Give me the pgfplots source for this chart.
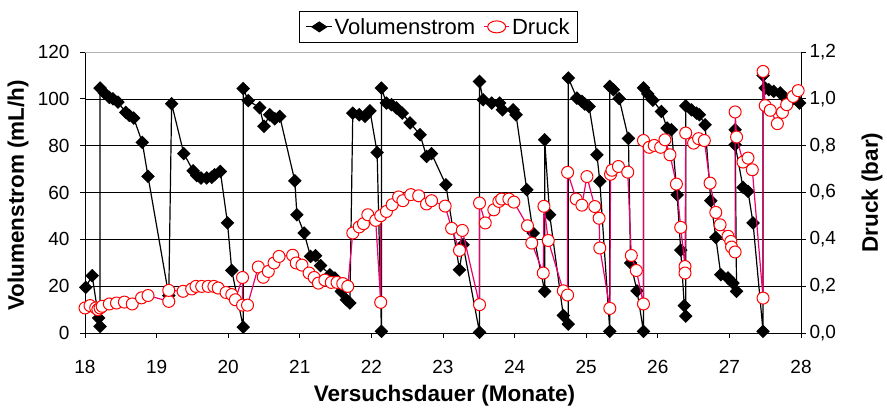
\documentclass[border=0pt]{standalone}
\usepackage{fontspec}
\setmainfont{Liberation Sans}
\usepackage{pgfplots}
\pgfplotsset{compat=1.18}
\definecolor{druckline}{RGB}{235,0,110}
\begin{document}
\begin{tikzpicture}
\pgfplotsset{
  every axis/.append style={
    width=716pt, height=281pt, scale only axis,
    xmin=18, xmax=28,
    /pgf/number format/assume math mode=true,
    tick label style={font=\fontsize{19}{22}\selectfont},
    label style={font=\fontsize{22.5}{26}\selectfont\bfseries},
    tick align=outside, major tick length=5pt,
    tick style={black, line width=0.8pt},
  }
}
\begin{axis}[name=ax,
  axis x line*=bottom, axis y line*=left,
  axis line style={black, line width=0.8pt, -},
  ymin=0, ymax=120, ytick={0,20,...,120},
  xtick={18,...,28},
  xticklabel style={yshift=-19pt},
  yticklabel style={xshift=-7pt},
  ymajorgrids, major grid style={black, line width=0.6pt},
  xlabel={Versuchsdauer (Monate)},
  ylabel={Volumenstrom (mL/h)},
  xlabel style={at={(axis description cs:0.502,-0.2242)}, anchor=center},
  ylabel style={at={(axis description cs:-0.0936,0.49)}, anchor=center},
]
\addplot[black, line width=1.2pt, mark=square*, mark size=4.2pt, mark options={rotate=45, solid, fill=black}] coordinates {
(18.01,19.5)(18.10,24.5)(18.19,6.4)(18.21,2.8)(18.21,104.6)(18.27,102.5)(18.34,100.6)(18.39,100.0)(18.46,98.6)
(18.57,94.2)(18.62,92.9)(18.68,91.8)(18.80,81.4)(18.88,66.9)(19.17,16)(19.21,97.9)(19.38,76.6)(19.51,69.3)
(19.56,67.2)(19.62,66.2)(19.70,66.2)(19.77,66.5)(19.81,67.6)(19.89,69.0)(19.99,47.0)(20.05,26.7)(20.21,2.5)
(20.21,104.4)(20.28,99.2)(20.44,96.2)(20.50,88.3)(20.58,93.2)(20.65,91.5)(20.72,92.5)(20.93,65.0)(20.96,50.5)
(21.06,42.7)(21.15,32.7)(21.22,33.0)(21.29,28.8)(21.42,24.9)(21.49,23.5)(21.58,17.8)(21.65,14.2)(21.70,12.8)
(21.74,93.9)(21.83,93.2)(21.91,92.5)(21.98,94.9)(22.08,77.1)(22.14,0.7)(22.14,104.6)(22.21,98.2)(22.28,97.5)
(22.35,96.1)(22.43,93.9)(22.54,89.7)(22.68,84.7)(22.77,75.4)(22.84,76.6)(23.04,63.3)(23.23,27.0)(23.28,37.7)
(23.51,0.3)(23.51,107.4)(23.56,99.6)(23.68,98.2)(23.79,98.2)(23.83,95.3)(23.98,95.3)(24.02,93.2)(24.17,61.2)
(24.26,42.7)(24.42,17.8)(24.42,82.5)(24.49,50.5)(24.68,7.5)(24.75,3.8)(24.75,108.9)(24.87,100.3)(24.94,98.9)
(24.98,97.8)(25.04,96.7)(25.15,76.1)(25.19,64.8)(25.33,0.7)(25.33,105.3)(25.38,103.9)(25.46,100.1)(25.59,83.1)
(25.62,29.9)(25.71,18.0)(25.80,0.7)(25.80,104.7)(25.86,102.1)(25.93,99.4)(26.05,94.6)(26.13,87.5)(26.19,86.8)
(26.27,59.0)(26.32,35.4)(26.37,11.7)(26.39,7.2)(26.39,97.0)(26.47,95.3)(26.54,93.9)(26.58,93.2)(26.66,88.9)
(26.74,56.5)(26.81,40.8)(26.88,24.9)(26.98,23.5)(27.05,21.3)(27.10,17.8)(27.08,86.8)(27.08,80.4)(27.19,62.2)
(27.26,60.5)(27.33,47.0)(27.47,0.7)(27.47,110.0)(27.50,104.6)(27.55,103.9)(27.62,103.2)(27.71,102.5)(27.78,100.3)
(27.87,99.6)(27.98,98.2)
};
\addplot[black, line width=1.2pt, forget plot] coordinates {(27.98,98.2)(28.10,93)};
\end{axis}
\begin{axis}[
  axis y line*=right, axis x line=none,
  axis line style={black, line width=0.8pt, -},
  ymin=0, ymax=1.2, ytick={0,0.2,...,1.2},
  yticklabel style={/pgf/number format/.cd, fixed, fixed zerofill, precision=1, use comma},
  ylabel={Druck (bar)},
  ylabel style={at={(axis description cs:1.0992,0.5)}, anchor=center},
  legend columns=-1,
  legend style={at={(axis description cs:0.494,1)}, anchor=south, yshift=9pt, draw=black, line width=0.8pt,
    font=\fontsize{22}{26}\selectfont, inner xsep=6pt, inner ysep=5pt,
    /tikz/every even column/.append style={column sep=6pt}},
  legend image post style={xscale=1.5},
  legend entries={Volumenstrom, Druck},
]
\addlegendimage{black, line width=1.2pt, mark=square*, mark size=3.4pt, mark options={rotate=45, solid, fill=black}}
\addplot[druckline, line width=1.2pt, mark=*, mark size=6pt, mark options={draw=red, fill=white, line width=1pt}] coordinates {
(18.00,0.107)(18.07,0.117)(18.15,0.107)(18.18,0.100)(18.21,0.107)(18.24,0.114)(18.34,0.124)(18.44,0.128)(18.55,0.132)
(18.66,0.124)(18.79,0.150)(18.88,0.160)(19.17,0.135)(19.17,0.182)(19.37,0.178)(19.49,0.188)(19.55,0.199)(19.63,0.199)
(19.72,0.199)(19.80,0.199)(19.86,0.192)(19.97,0.173)(20.05,0.164)(20.10,0.142)(20.20,0.237)(20.20,0.119)(20.27,0.119)
(20.42,0.282)(20.49,0.238)(20.56,0.263)(20.64,0.299)(20.71,0.327)(20.90,0.332)(20.95,0.299)(21.03,0.290)(21.13,0.256)
(21.20,0.237)(21.26,0.213)(21.35,0.226)(21.44,0.216)(21.52,0.216)(21.60,0.211)(21.67,0.199)(21.74,0.427)(21.83,0.453)
(21.89,0.467)(21.95,0.505)(22.06,0.481)(22.13,0.131)(22.13,0.501)(22.21,0.519)(22.29,0.548)(22.38,0.581)(22.44,0.565)
(22.55,0.591)(22.66,0.586)(22.77,0.551)(22.84,0.565)(23.03,0.542)(23.12,0.447)(23.23,0.353)(23.27,0.438)(23.51,0.121)
(23.51,0.555)(23.59,0.470)(23.71,0.526)(23.78,0.562)(23.82,0.572)(23.92,0.572)(23.99,0.559)(24.18,0.458)(24.24,0.384)
(24.40,0.256)(24.41,0.541)(24.47,0.395)(24.68,0.180)(24.74,0.162)(24.74,0.686)(24.86,0.572)(24.94,0.546)(25.01,0.668)
(25.12,0.540)(25.18,0.490)(25.19,0.363)(25.33,0.105)(25.34,0.678)(25.36,0.695)(25.45,0.711)(25.58,0.687)(25.63,0.331)
(25.70,0.267)(25.80,0.124)(25.80,0.822)(25.88,0.793)(25.95,0.801)(26.04,0.793)(26.10,0.825)(26.17,0.761)(26.26,0.636)
(26.32,0.451)(26.38,0.284)(26.38,0.256)(26.39,0.854)(26.50,0.811)(26.57,0.830)(26.65,0.822)(26.73,0.640)(26.81,0.515)
(26.87,0.462)(26.98,0.413)(27.02,0.391)(27.03,0.367)(27.08,0.346)(27.08,0.944)(27.10,0.837)(27.19,0.730)(27.26,0.747)
(27.32,0.697)(27.47,0.149)(27.47,1.117)(27.50,0.971)(27.57,0.951)(27.67,0.894)(27.74,0.942)(27.80,0.975)(27.89,1.010)
(27.96,1.035)
};
\addplot[druckline, line width=1.2pt, forget plot] coordinates {(27.96,1.035)(28.10,1.046)};
\end{axis}
\draw[gray!60, line width=0.8pt] (ax.north west) -- (ax.north east);
\pgfresetboundingbox
\path ([shift={(-85pt,-77pt)}]ax.south west) rectangle ([shift={(86pt,52pt)}]ax.north east);
\end{tikzpicture}
\end{document}
